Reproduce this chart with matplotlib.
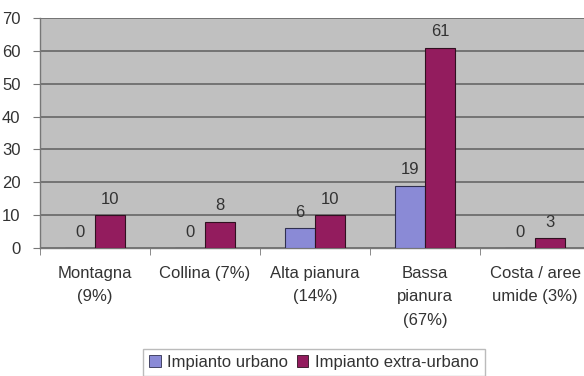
import numpy as np
import matplotlib.pyplot as plt
from matplotlib.patches import Patch

plt.rcParams["font.family"] = ["Liberation Sans", "DejaVu Sans"]

categorie = ["Montagna\n(9%)", "Collina (7%)", "Alta pianura\n(14%)",
             "Bassa\npianura\n(67%)", "Costa / aree\numide (3%)"]
urbano = [0, 0, 6, 19, 0]
extra_urbano = [10, 8, 10, 61, 3]
serie = ["Impianto urbano", "Impianto extra-urbano"]

col_urbano = "#8a8ad6"
col_extra = "#931c5e"
sfondo = "#c0c0c0"
testo = "#333333"
fs = 12

fig = plt.figure(figsize=(5.84, 3.76), dpi=100)
ax = fig.add_axes([40 / 584, 1 - 248 / 376, 550 / 584, 230 / 376])
ax.set_facecolor(sfondo)

x = np.arange(len(categorie))
w = 0.273
b1 = ax.bar(x - w / 2, urbano, w, color=col_urbano, edgecolor="#303050", linewidth=0.8, zorder=3)
b2 = ax.bar(x + w / 2, extra_urbano, w, color=col_extra, edgecolor="#301020", linewidth=0.8, zorder=3)

# etichette dei valori sopra le barre
for bars, vals in ((b1, urbano), (b2, extra_urbano)):
    for r, v in zip(bars, vals):
        ax.annotate(str(v), (r.get_x() + r.get_width() / 2, v), xytext=(0, 6),
                    textcoords="offset points", ha="center", va="bottom",
                    fontsize=fs, color=testo)

ax.set_xlim(-0.5, len(categorie) - 0.5)
ax.set_ylim(0, 70)
ax.set_yticks(range(0, 71, 10))
ax.yaxis.grid(True, color="#6e6e6e", linewidth=1.3, zorder=1)
ax.set_axisbelow(True)

ax.set_xticks(x)
ax.set_xticklabels(categorie, fontsize=fs, color=testo, va="top", linespacing=1.7)
ax.tick_params(axis="x", length=0, pad=13)
ax.set_xticks(np.arange(-0.5, len(categorie)), minor=True)
ax.tick_params(axis="x", which="minor", length=5, color="#777777", direction="out")
ax.tick_params(axis="y", length=5, color="#777777", labelsize=fs, labelcolor=testo, pad=9)

for s in ("top", "right"):
    ax.spines[s].set_visible(False)
for s in ("left", "bottom"):
    ax.spines[s].set_color("#777777")
    ax.spines[s].set_linewidth(1.0)

handles = [Patch(facecolor=col_urbano, edgecolor="#303050", linewidth=0.6),
           Patch(facecolor=col_extra, edgecolor="#301020", linewidth=0.6)]
leg = fig.legend(handles, serie, loc="upper center", bbox_to_anchor=(314 / 584, 1 - 349 / 376),
                 ncol=2, fontsize=fs, frameon=True, fancybox=False, handlelength=0.7,
                 handleheight=0.7, handletextpad=0.4, columnspacing=0.5, borderpad=0.35,
                 borderaxespad=0, labelcolor=testo)
leg.get_frame().set_edgecolor("#aaaaaa")
leg.get_frame().set_linewidth(1.0)

fig.savefig("out.png", dpi=100)
